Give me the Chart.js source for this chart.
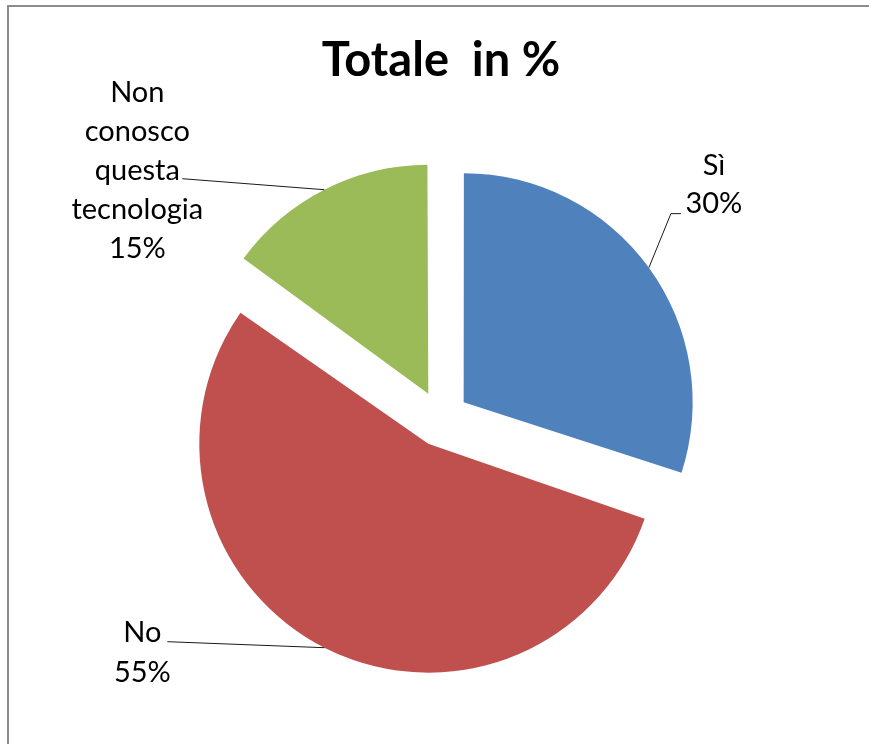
<!DOCTYPE html>
<html lang="it">
<head>
    <meta charset="UTF-8">
    <title>Totale in %</title>
    <script src="https://cdn.jsdelivr.net/npm/chart.js"></script>
    <style>
        html, body {
            margin: 0;
            padding: 0;
            background: #ffffff;
            overflow: hidden;
        }
        #wrap {
            width: 869px;
            height: 744px;
        }
    </style>
</head>
<body>
    <div id="wrap">
        <canvas id="pieChart" width="869" height="744"></canvas>
    </div>

    <script>
        // Data
        var categories = ['Sì', 'No', 'Non conosco questa tecnologia'];
        var values = [30, 55, 15];
        var labelLines = [['Sì', '30%'], ['No', '55%'], ['Non', 'conosco', 'questa', 'tecnologia', '15%']];
        var sliceColors = ['#4F81BD', '#C0504D', '#9BBB59'];

        // how far each slice is pulled out (px)
        var EXPLODE = 28;
        var RADIUS = 229;

        // label placement relative to the outer edge point of each slice (same order as the data)
        var labelLayout = [
            { leader: [[22, -54], [32, -54]], textX: 65, textY: -102, step: 38 },
            { leader: [[-157, -6]], textX: -182, textY: -15, step: 40 },
            { leader: [[-142, -11]], textX: -187, textY: -97, step: 39 }
        ];

        // Chart.js translates an arc by offset/4 and also grows the radius, undo the growth
        var keepRadius = {
            id: 'keepRadius',
            beforeDatasetDraw: function(chart) {
                var meta = chart.getDatasetMeta(0);
                var base = meta.controller.outerRadius;
                meta.data.forEach(function(arc) {
                    var off = (arc.options.offset || 0) / 4;
                    var fix = 1 - Math.sin(Math.min(Math.PI, arc.circumference));
                    arc.outerRadius = base - off * fix;
                });
            }
        };

        // grey frame around the chart
        var frame = {
            id: 'frame',
            beforeDraw: function(chart) {
                var ctx = chart.ctx;
                ctx.save();
                ctx.strokeStyle = '#8c8c8c';
                ctx.lineWidth = 2;
                ctx.strokeRect(8, 6, 900, 800);
                ctx.restore();
            }
        };

        // data labels with leader lines
        var sliceLabels = {
            id: 'sliceLabels',
            afterDatasetsDraw: function(chart) {
                var ctx = chart.ctx;
                var meta = chart.getDatasetMeta(0);
                var base = meta.controller.outerRadius;
                ctx.save();
                meta.data.forEach(function(arc, i) {
                    var h = (arc.startAngle + arc.endAngle) / 2;
                    var cx = arc.x + Math.cos(h) * EXPLODE;
                    var cy = arc.y + Math.sin(h) * EXPLODE;
                    var ex = cx + Math.cos(h) * base;
                    var ey = cy + Math.sin(h) * base;
                    var lay = labelLayout[i];

                    ctx.strokeStyle = '#1a1a1a';
                    ctx.lineWidth = 1;
                    ctx.beginPath();
                    ctx.moveTo(ex, ey);
                    lay.leader.forEach(function(p) {
                        ctx.lineTo(ex + p[0], ey + p[1]);
                    });
                    ctx.stroke();

                    ctx.fillStyle = '#000000';
                    ctx.font = '29px Lato, "Open Sans", sans-serif';
                    ctx.textAlign = 'center';
                    ctx.textBaseline = 'middle';
                    labelLines[i].forEach(function(t, k) {
                        ctx.fillText(t, ex + lay.textX, ey + lay.textY + k * lay.step);
                    });
                });
                ctx.restore();
            }
        };

        var ctx = document.getElementById('pieChart').getContext('2d');
        var pieChart = new Chart(ctx, {
            type: 'pie',
            data: {
                labels: categories,
                datasets: [{
                    data: values,
                    backgroundColor: sliceColors,
                    borderWidth: 0,
                    offset: EXPLODE * 4,
                    hoverOffset: 0,
                    radius: RADIUS
                }]
            },
            options: {
                responsive: false,
                animation: false,
                events: [],
                layout: {
                    padding: { left: 13, right: 0, top: 0, bottom: 0 }
                },
                plugins: {
                    legend: { display: false },
                    tooltip: { enabled: false },
                    title: {
                        display: true,
                        text: 'Totale  in %',
                        color: '#000000',
                        font: { family: 'Lato, "Open Sans", sans-serif', size: 47, weight: 'bold' },
                        padding: { top: 33, bottom: 4 }
                    }
                }
            },
            plugins: [frame, keepRadius, sliceLabels]
        });
    </script>
</body>
</html>
